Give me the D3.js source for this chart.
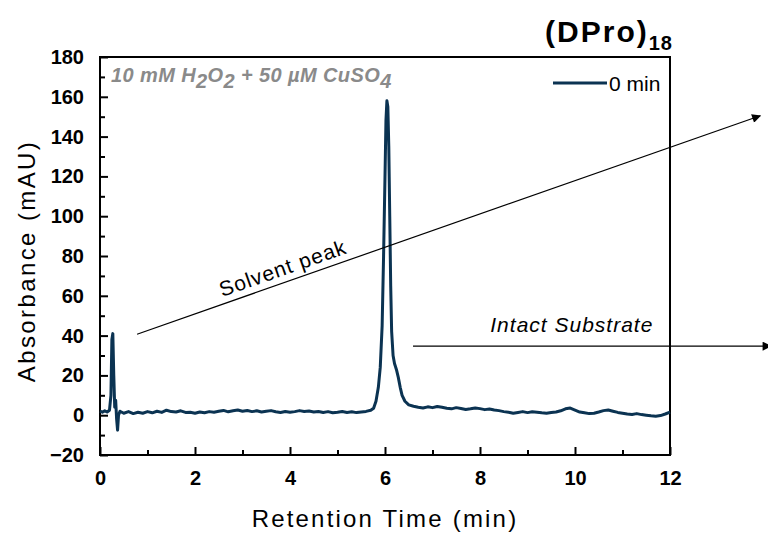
<!DOCTYPE html>
<html>
<head>
<meta charset="utf-8">
<script src="https://cdn.jsdelivr.net/npm/d3@7"></script>
<style>
  body { margin: 0; background: #fff; }
  text { font-family: "Liberation Sans", Arial, sans-serif; }
</style>
</head>
<body>
<div id="plot"></div>
<script>
// chromatogram, 0 min sample
const retentionTime = [0.00,0.05,0.10,0.15,0.20,0.23,0.25,0.27,0.29,0.31,0.33,0.35,0.37,0.39,0.42,0.50,0.60,0.70,0.80,0.90,
  1.00,1.10,1.20,1.30,1.40,1.50,1.60,1.70,1.80,1.90,2.00,2.10,2.20,2.30,2.40,2.50,2.60,2.70,2.80,2.90,
  3.00,3.10,3.20,3.30,3.40,3.50,3.60,3.70,3.80,3.90,4.00,4.10,4.20,4.30,4.40,4.50,4.60,4.70,4.80,4.90,
  5.00,5.10,5.20,5.30,5.40,5.50,5.60,5.70,5.76,5.81,5.86,5.90,5.94,5.97,6.00,6.02,6.04,6.06,6.08,6.10,
  6.12,6.14,6.17,6.20,6.24,6.28,6.32,6.36,6.42,6.50,6.60,6.70,6.80,6.90,7.00,7.10,7.20,7.30,7.40,7.50,
  7.60,7.70,7.80,7.90,8.00,8.10,8.20,8.30,8.40,8.50,8.60,8.70,8.80,8.90,9.00,9.10,9.20,9.30,9.40,9.50,
  9.60,9.70,9.80,9.90,10.00,10.10,10.20,10.30,10.40,10.50,10.60,10.70,10.80,10.90,11.00,11.10,11.20,11.30,11.40,11.50,
  11.60,11.70,11.80,11.90,12.00];
const absorbance = [2.0,1.5,2.2,1.6,2.5,10,38,41,20,4,7.5,-2,-7.5,0,2,1.0,1.8,0.8,1.5,1.0,
  1.8,1.2,2.0,1.4,2.5,1.8,1.6,2.2,1.4,1.5,1.0,1.6,1.2,1.8,1.5,2.0,2.4,1.7,2.2,2.6,
  2.0,2.4,1.8,2.2,1.6,2.0,2.3,1.7,1.4,1.9,1.5,1.8,2.3,1.9,2.1,1.6,1.9,1.4,1.8,1.2,
  1.5,1.9,1.4,1.7,1.3,1.6,1.9,2.5,3.5,7,14,24,45,80,120,148,158,155,135,100,
  65,42,30,26,23,19,14,10,7,5.2,4.5,4.0,3.6,4.2,3.8,4.4,4.0,3.5,3.2,3.8,
  3.4,2.9,3.2,3.6,3.3,2.8,3.1,2.6,2.3,1.8,1.5,1.0,1.4,1.8,1.3,1.7,1.5,1.2,1.0,1.4,
  1.6,2.2,3.2,3.6,2.6,1.6,1.2,0.8,1.0,1.6,2.3,2.6,2.0,1.4,1.0,0.6,0.4,0.8,0.3,0.0,
  -0.3,-0.5,-0.2,0.6,1.6];

const xMajorTicks = [0,2,4,6,8,10,12];
const xMinorTicks = [1,3,5,7,9,11];
const yMajorTicks = [-20,0,20,40,60,80,100,120,140,160,180];
const yMinorTicks = [-10,10,30,50,70,90,110,130,150,170];

const seriesName = "0 min";
const lineColor = "#0b3352";

// annotation arrows in data units
const solventArrow = [[0.78, 40.7], [13.9, 150.5]];
const substrateArrow = [[6.59, 34.7], [14.12, 34.7]];

const svgWidth = 768, svgHeight = 541;
const margin = {top: 57, right: 98, bottom: 86, left: 100};
const width = svgWidth - margin.left - margin.right;
const height = svgHeight - margin.top - margin.bottom;

const root = d3.select("#plot").append("svg")
  .attr("width", svgWidth)
  .attr("height", svgHeight);

root.append("defs").append("marker")
  .attr("id", "arrow")
  .attr("viewBox", "0 0 10 10")
  .attr("refX", 9).attr("refY", 5)
  .attr("markerWidth", 13).attr("markerHeight", 9)
  .attr("markerUnits", "userSpaceOnUse")
  .attr("orient", "auto")
  .append("path")
  .attr("d", "M0,0 L10,5 L0,10 Z")
  .attr("fill", "#000");

const svg = root.append("g")
  .attr("transform", "translate(" + margin.left + "," + margin.top + ")");

const x = d3.scaleLinear().domain([0, 12]).range([0, width]);
const y = d3.scaleLinear().domain([-20, 180]).range([height, 0]);

// frame
svg.append("rect")
  .attr("width", width).attr("height", height)
  .attr("fill", "none").attr("stroke", "#000").attr("stroke-width", 2);

// x axis, ticks pointing inwards
const xAxis = svg.append("g").attr("transform", "translate(0," + height + ")");
xAxis.call(d3.axisBottom(x).tickValues(xMajorTicks).tickSize(-8).tickPadding(16).tickFormat(d3.format("d")));
xAxis.append("g").call(d3.axisBottom(x).tickValues(xMinorTicks).tickSize(-5).tickFormat(""));
xAxis.selectAll(".domain").remove();
xAxis.selectAll("line").attr("stroke", "#000").attr("stroke-width", 2);
xAxis.selectAll("text")
  .attr("font-size", 20).attr("font-weight", "bold").attr("fill", "#000")
  .attr("font-family", "Liberation Sans, Arial, sans-serif");

const yAxis = svg.append("g");
yAxis.call(d3.axisLeft(y).tickValues(yMajorTicks).tickSize(-8).tickPadding(16).tickFormat(d3.format("d")));
yAxis.append("g").call(d3.axisLeft(y).tickValues(yMinorTicks).tickSize(-5).tickFormat(""));
yAxis.selectAll(".domain").remove();
yAxis.selectAll("line").attr("stroke", "#000").attr("stroke-width", 2);
yAxis.selectAll("text")
  .attr("font-size", 20).attr("font-weight", "bold").attr("fill", "#000")
  .attr("font-family", "Liberation Sans, Arial, sans-serif");

// trace
const points = retentionTime.map((t, i) => [t, absorbance[i]]);
const line = d3.line().x(d => x(d[0])).y(d => y(d[1]));
svg.append("path")
  .datum(points)
  .attr("d", line)
  .attr("fill", "none")
  .attr("stroke", lineColor)
  .attr("stroke-width", 3)
  .attr("stroke-linejoin", "round");

// arrows
const arrowLine = d3.line().x(d => x(d[0])).y(d => y(d[1]));
[solventArrow, substrateArrow].forEach(a => {
  svg.append("path")
    .attr("d", arrowLine(a))
    .attr("stroke", "#000").attr("stroke-width", 1.2)
    .attr("fill", "none")
    .attr("marker-end", "url(#arrow)");
});

const dx = x(solventArrow[1][0]) - x(solventArrow[0][0]);
const dy = y(solventArrow[1][1]) - y(solventArrow[0][1]);
const angle = Math.atan2(dy, dx) * 180 / Math.PI;
svg.append("text")
  .attr("transform", "translate(" + x(3.9) + "," + y(70.5) + ") rotate(" + angle + ")")
  .attr("text-anchor", "middle")
  .attr("font-size", 21).attr("letter-spacing", 1)
  .text("Solvent peak");

svg.append("text")
  .attr("x", x(11.65)).attr("y", y(42))
  .attr("text-anchor", "end")
  .attr("font-size", 21).attr("letter-spacing", 1).attr("font-style", "italic")
  .text("Intact Substrate");

// condition label
const cond = svg.append("text")
  .attr("x", 11).attr("y", 25)
  .attr("font-size", 20).attr("letter-spacing", 0.4)
  .attr("font-weight", "bold").attr("font-style", "italic")
  .attr("fill", "#8a8a8a");
cond.append("tspan").text("10 mM H");
cond.append("tspan").attr("dy", 6).text("2");
cond.append("tspan").attr("dy", -6).text("O");
cond.append("tspan").attr("dy", 6).text("2");
cond.append("tspan").attr("dy", -6).text(" + 50 \u00b5M CuSO");
cond.append("tspan").attr("dy", 6).text("4");

// legend
const legend = svg.append("g").attr("transform", "translate(" + (width - 117) + ",26)");
legend.append("line").attr("x1", 0).attr("x2", 54)
  .attr("stroke", lineColor).attr("stroke-width", 3);
legend.append("text").attr("x", 56).attr("y", 8)
  .attr("font-size", 21).text(seriesName);

// title
const title = root.append("text")
  .attr("x", 673).attr("y", 42)
  .attr("text-anchor", "end")
  .attr("font-size", 30).attr("font-weight", "bold").attr("letter-spacing", 2);
title.append("tspan").text("(DPro)");
title.append("tspan").attr("dy", 8).attr("font-size", 20).attr("letter-spacing", 1).text("18");

// axis titles
root.append("text")
  .attr("x", margin.left + width / 2).attr("y", 527)
  .attr("text-anchor", "middle").attr("font-size", 24).attr("letter-spacing", 2.2)
  .text("Retention Time (min)");
root.append("text")
  .attr("transform", "translate(35," + 261 + ") rotate(-90)")
  .attr("text-anchor", "middle").attr("font-size", 24).attr("letter-spacing", 2.4)
  .text("Absorbance (mAU)");
</script>
</body>
</html>
